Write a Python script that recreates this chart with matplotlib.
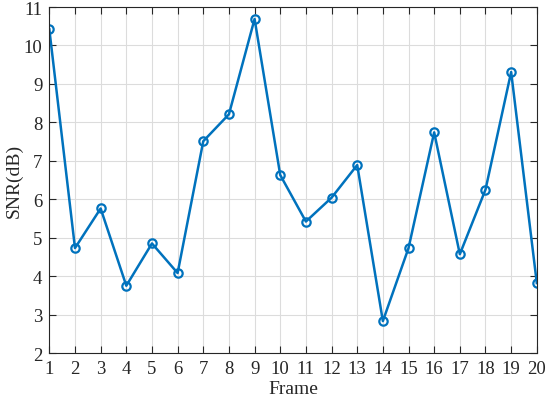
import matplotlib
matplotlib.use("Agg")
import matplotlib.pyplot as plt
import numpy as np

# SNR per frame
frames = np.arange(1, 21)
snr = [10.42, 4.73, 5.76, 3.75, 4.85, 4.08, 7.51, 8.21, 10.69, 6.63,
       5.42, 6.04, 6.89, 2.83, 4.73, 7.74, 4.57, 6.25, 9.31, 3.82]
yticks = np.arange(2, 12)

plt.rcParams['font.family'] = ['Liberation Serif', 'DejaVu Serif']
plt.rcParams['mathtext.fontset'] = 'stix'

fig = plt.figure(figsize=(5.5, 4.02), dpi=100)
ax = fig.add_axes([0.0897, 0.1194, 0.8863, 0.8606])

ax.plot(frames, snr, color='#0072BD', linewidth=1.8, marker='o',
        markersize=6, markerfacecolor='none', markeredgewidth=1.6)

ax.set_xlim(1, 20)
ax.set_ylim(2, 11)
ax.set_xticks(frames)
ax.set_yticks(yticks)
ax.grid(True, color='#dcdcdc', linewidth=0.8)
ax.set_axisbelow(True)
ax.tick_params(direction='in', top=True, right=True, length=5,
               labelsize=13.5, colors='#262626', width=0.8, pad=5)
for s in ax.spines.values():
    s.set_color('#262626')
    s.set_linewidth(0.8)

ax.set_xlabel('Frame', fontsize=14, color='#262626', labelpad=2)
ax.set_ylabel('SNR(dB)', fontsize=14, color='#262626', labelpad=1)

fig.savefig('out.png', dpi=100)
